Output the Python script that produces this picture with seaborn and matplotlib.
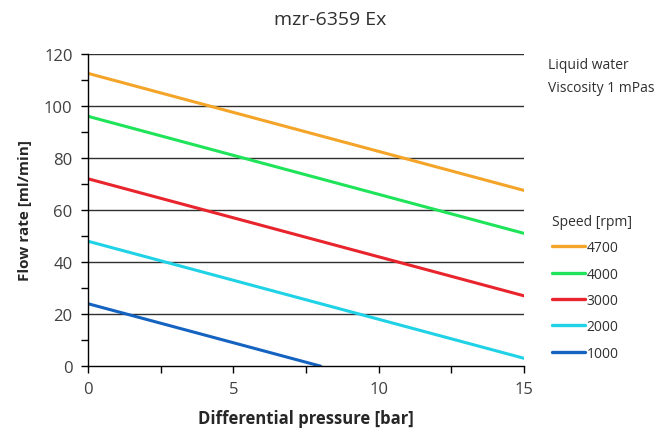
import pandas as pd
import seaborn as sns
import matplotlib.pyplot as plt
from matplotlib.ticker import MultipleLocator

sns.set_theme(style='white')
plt.rcParams['font.family'] = ['Open Sans', 'DejaVu Sans']

# Values (start and end of each straight line)
speeds = ['4700', '4000', '3000', '2000', '1000']
pressure_start = [0, 0, 0, 0, 0]
pressure_end = [15, 15, 15, 15, 8]
flow_start = [112.5, 96, 72, 48, 24]
flow_end = [67.5, 51, 27, 3, 0]
colors = ['#F4A428', '#1FE45A', '#E8242C', '#20D2E6', '#1463C0']

rows = []
for s, p0, p1, f0, f1 in zip(speeds, pressure_start, pressure_end, flow_start, flow_end):
    rows.append({'speed': s, 'pressure': p0, 'flow': f0})
    rows.append({'speed': s, 'pressure': p1, 'flow': f1})
df = pd.DataFrame(rows)

fig = plt.figure(figsize=(6.56, 4.35), dpi=100)
ax = fig.add_axes([0.134, 0.156, 0.665, 0.718])

sns.lineplot(data=df, x='pressure', y='flow', hue='speed', hue_order=speeds,
             palette=colors, linewidth=2.2, ax=ax, legend=False)

ax.set_xlim(0, 15)
ax.set_ylim(0, 120)
ax.xaxis.set_major_locator(MultipleLocator(5))
ax.xaxis.set_minor_locator(MultipleLocator(2.5))
ax.yaxis.set_major_locator(MultipleLocator(20))
ax.yaxis.set_minor_locator(MultipleLocator(10))

for y in range(20, 121, 20):
    ax.axhline(y, color='#303030', linewidth=1.0, zorder=0)

for side in ['top', 'right']:
    ax.spines[side].set_visible(False)
for side in ['left', 'bottom']:
    ax.spines[side].set_color('black')
    ax.spines[side].set_linewidth(1.0)

ax.tick_params(which='both', direction='out', color='black', width=1.0,
               left=True, bottom=True)
ax.tick_params(which='major', length=5, labelsize=12, labelcolor='#404040', pad=6)
ax.tick_params(which='minor', length=5)

ax.set_xlabel('Differential pressure [bar]', fontsize=12, fontweight='bold', labelpad=8)
ax.set_ylabel('Flow rate [ml/min]', fontsize=11, fontweight='bold', labelpad=9)
fig.text(0.503, 0.955, 'mzr-6359 Ex', ha='center', va='center', fontsize=14, color='#303030')

fig.text(0.835, 0.85, 'Liquid water', fontsize=10, color='#303030', va='center')
fig.text(0.835, 0.797, 'Viscosity 1 mPas', fontsize=10, color='#303030', va='center')

handles = [plt.Line2D([0], [0], color=c, linewidth=2.4) for c in colors]
leg = ax.legend(handles, speeds, title='Speed [rpm]', loc='upper left',
                bbox_to_anchor=(1.035, 0.528), frameon=False, fontsize=10,
                handlelength=2.4, handletextpad=0.1, labelspacing=0.82,
                title_fontsize=10, alignment='left')
for t in leg.get_texts():
    t.set_color('#303030')
leg.get_title().set_color('#303030')
leg._legend_box.align = 'left'

fig.savefig('out.png', dpi=100)
